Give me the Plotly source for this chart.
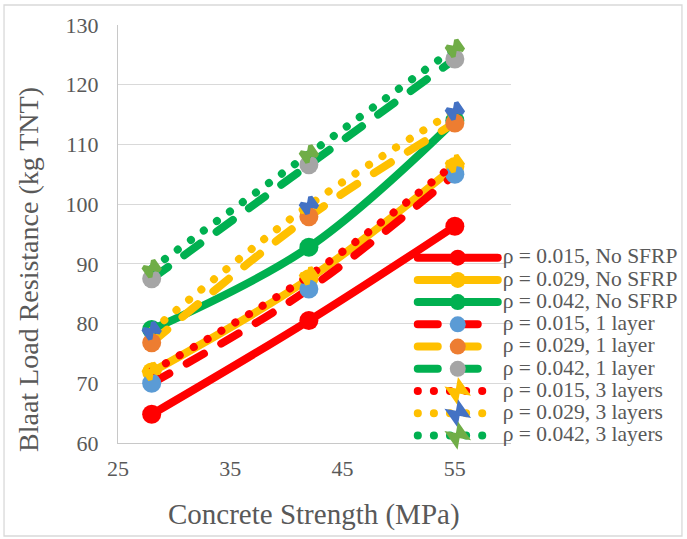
import plotly.graph_objects as go

# Concrete compressive strength (MPa)
strength = [28, 42, 55]

# Blast load resistance (kg TNT) per reinforcement ratio and SFRP scheme
no_sfrp_015 = [64.8, 80.5, 96.3]
no_sfrp_029 = [71.9, 87.5, 106.3]
no_sfrp_042 = [79.0, 92.8, 114.0]
layer1_015 = [70.0, 85.8, 105.0]
layer1_029 = [76.8, 97.9, 113.6]
layer1_042 = [87.5, 106.6, 124.3]
layer3_015 = [72.0, 88.0, 106.8]
layer3_029 = [78.8, 99.8, 115.6]
layer3_042 = [89.2, 108.4, 126.1]

series_names = [
    "ρ = 0.015, No SFRP", "ρ = 0.029, No SFRP", "ρ = 0.042, No SFRP",
    "ρ = 0.015, 1 layer", "ρ = 0.029, 1 layer", "ρ = 0.042, 1 layer",
    "ρ = 0.015, 3 layers", "ρ = 0.029, 3 layers", "ρ = 0.042, 3 layers",
]
series_values = [
    no_sfrp_015, no_sfrp_029, no_sfrp_042,
    layer1_015, layer1_029, layer1_042,
    layer3_015, layer3_029, layer3_042,
]

line_colors = ["#FF0000", "#FFC000", "#00B050"] * 3
marker_colors = [
    "#FF0000", "#FFC000", "#00B050",
    "#5B9BD5", "#ED7D31", "#A5A5A5",
    "#FFC000", "#4472C4", "#70AD47",
]
dashes = ["solid"] * 3 + ["20px,20px"] * 3 + ["0.1px,16px"] * 3

FONT = "Times New Roman, Liberation Serif, serif"
GREY = "#595959"

fig = go.Figure()
for i, (name, vals) in enumerate(zip(series_names, series_values)):
    if i < 6:
        marker = dict(color=marker_colors[i], size=19, symbol="circle",
                      line=dict(width=0))
    else:
        # notched blob marker for the three-layer series
        marker = dict(color=marker_colors[i], size=12, symbol="bowtie",
                      angle=-35, line=dict(width=4.5, color=marker_colors[i]))
    fig.add_trace(go.Scatter(
        x=strength, y=vals,
        mode="lines+markers",
        name=f'<span style="font-size:21.5px">{name}</span>',
        line=dict(color=line_colors[i], width=8, dash=dashes[i], shape="spline"),
        marker=marker,
    ))

fig.update_layout(
    width=687, height=539,
    margin=dict(l=118, r=176, t=25, b=96, autoexpand=False),
    paper_bgcolor="white", plot_bgcolor="white",
    font=dict(family=FONT, color=GREY),
    showlegend=True,
    legend=dict(
        x=0.75, y=0.482, xanchor="left", yanchor="top",
        bgcolor="rgba(0,0,0,0)", borderwidth=0,
        font=dict(family=FONT, size=14.8, color=GREY),
        itemwidth=80, tracegroupgap=0,
    ),
    xaxis=dict(
        range=[25, 60], tick0=25, dtick=10, showgrid=False,
        showline=True, linecolor="#C8C8C8", linewidth=1.3,
        ticks="", ticklabelstandoff=5, zeroline=False,
        tickfont=dict(family=FONT, size=22, color=GREY),
    ),
    yaxis=dict(
        range=[60, 130], tick0=60, dtick=10, showgrid=True,
        gridcolor="#D9D9D9", gridwidth=1.3,
        showline=True, linecolor="#C8C8C8", linewidth=1.3,
        ticks="", ticklabelstandoff=14, zeroline=False,
        tickfont=dict(family=FONT, size=22, color=GREY),
    ),
    annotations=[
        dict(text="Concrete Strength (MPa)", xref="paper", yref="paper",
             x=0.4975, y=-0.172, xanchor="center", yanchor="middle",
             showarrow=False, font=dict(family=FONT, size=29, color=GREY)),
        dict(text="Blaat Load Resistance (kg TNT)", xref="paper", yref="paper",
             x=-0.2265, y=0.4163, xanchor="center", yanchor="middle",
             textangle=-90, showarrow=False,
             font=dict(family=FONT, size=28, color=GREY)),
    ],
    shapes=[
        dict(type="rect", xref="paper", yref="paper",
             x0=-0.290, x1=1.435, y0=-0.2225, y1=1.0478,
             line=dict(color="#D9D9D9", width=1.3), fillcolor="rgba(0,0,0,0)",
             layer="below"),
    ],
)

round_caps = (
    "document.querySelectorAll('path.js-line').forEach(function(p){"
    "p.style.strokeLinecap='round';p.style.strokeLinejoin='round';});"
)
fig.write_html("out.html", post_script=round_caps)
